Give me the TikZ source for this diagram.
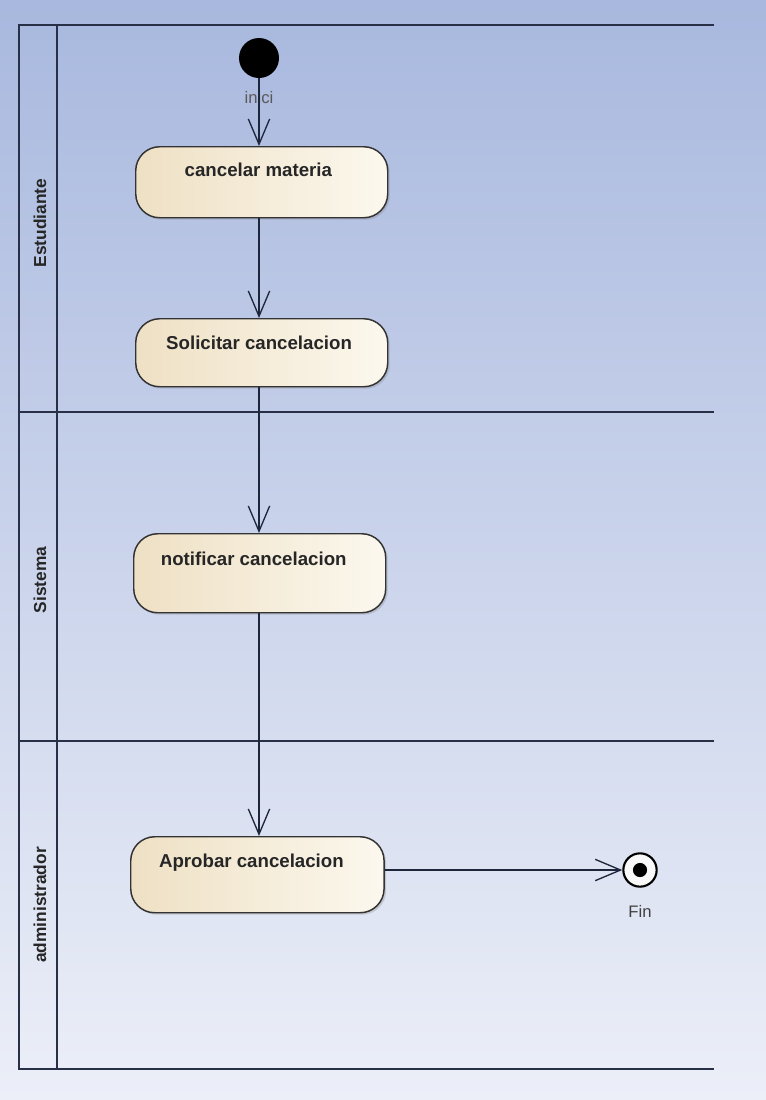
\documentclass[tikz,border=0pt]{standalone}
\usepackage{fontspec}
\setmainfont{Liberation Sans}
\usetikzlibrary{arrows.meta,shadows,calc}
\definecolor{bgtop}{RGB}{168,184,222}
\definecolor{bgbot}{RGB}{236,239,248}
\definecolor{lanec}{RGB}{40,48,72}
\definecolor{flowc}{RGB}{30,38,60}
\definecolor{actl}{RGB}{238,224,196}
\definecolor{actr}{RGB}{252,248,238}
\tikzset{
  lane/.style={draw=lanec, line width=1.6pt},
  lanelabel/.style={rotate=90, font=\bfseries\fontsize{13}{15}\selectfont, text=black!85},
  action/.style={draw=black!80, line width=1.1pt, rounded corners=18pt, left color=actl, right color=actr,
    drop shadow={shadow xshift=1.5pt, shadow yshift=-1.5pt, opacity=0.3},
    anchor=north west, inner sep=0pt, font=\bfseries\fontsize{14}{16}\selectfont, text=black!85},
  flow/.style={draw=flowc, line width=1pt, -{Straight Barb[length=19pt,width=16pt,line width=1pt]}},
  startnode/.style={circle, fill=black, minimum size=30pt, inner sep=0pt},
  endnode/.style={circle, draw=black, line width=1.6pt, fill=white!95!gray, minimum size=25pt, inner sep=0pt,
    path picture={\fill[black] (path picture bounding box.center) circle (5.3pt);}},
  small/.style={font=\fontsize{12.5}{14}\selectfont, text=black!65}
}
\begin{document}
\begin{tikzpicture}[x=0.75pt, y=-0.75pt]
\shade[top color=bgtop, bottom color=bgbot] (0,0) rectangle (766,1100);
\useasboundingbox (0,0) rectangle (766,1100);
% swimlanes
\draw[lane] (714,25) -- (19,25) -- (19,1069) -- (714,1069);
\draw[lane] (57,25) -- (57,1069);
\draw[lane] (19,412) -- (714,412);
\draw[lane] (19,741) -- (714,741);
\node[lanelabel] (l1) at (40,223) {Estudiante};
\node[lanelabel] (l2) at (40,580) {Sistema};
\node[lanelabel] (l3) at (40,905) {administrador};
% nodes
\node[startnode] (init) at (259,58) {};
\node[small] (inici) at (259,98) {inici};
\node[action, minimum width=189pt, text height=22.5pt, text depth=30.75pt] (cm) at (135,146) {\hspace*{-5pt}cancelar materia};
\node[action, minimum width=189pt, text height=23.25pt, text depth=27.75pt] (sc) at (135,318) {\hspace*{-4pt}Solicitar cancelacion};
\node[action, minimum width=189pt, text height=24pt, text depth=35.25pt] (nc) at (133,533) {\hspace*{-9pt}notificar cancelacion};
\node[action, minimum width=190pt, text height=23.25pt, text depth=33.75pt] (ap) at (130,836) {\hspace*{-9pt}Aprobar cancelacion};
\node[endnode] (fin) at (640,870) {};
\node[small, text=black!75] (finl) at (640,911) {Fin};
% flows
\draw[flow] (init) -- (init |- cm.north);
\draw[flow] (cm.south -| init) -- (sc.north -| init);
\draw[flow] (sc.south -| init) -- (nc.north -| init);
\draw[flow] (nc.south -| init) -- (ap.north -| init);
\draw[flow] (ap.east |- fin) -- (fin.west);
\end{tikzpicture}
\end{document}
